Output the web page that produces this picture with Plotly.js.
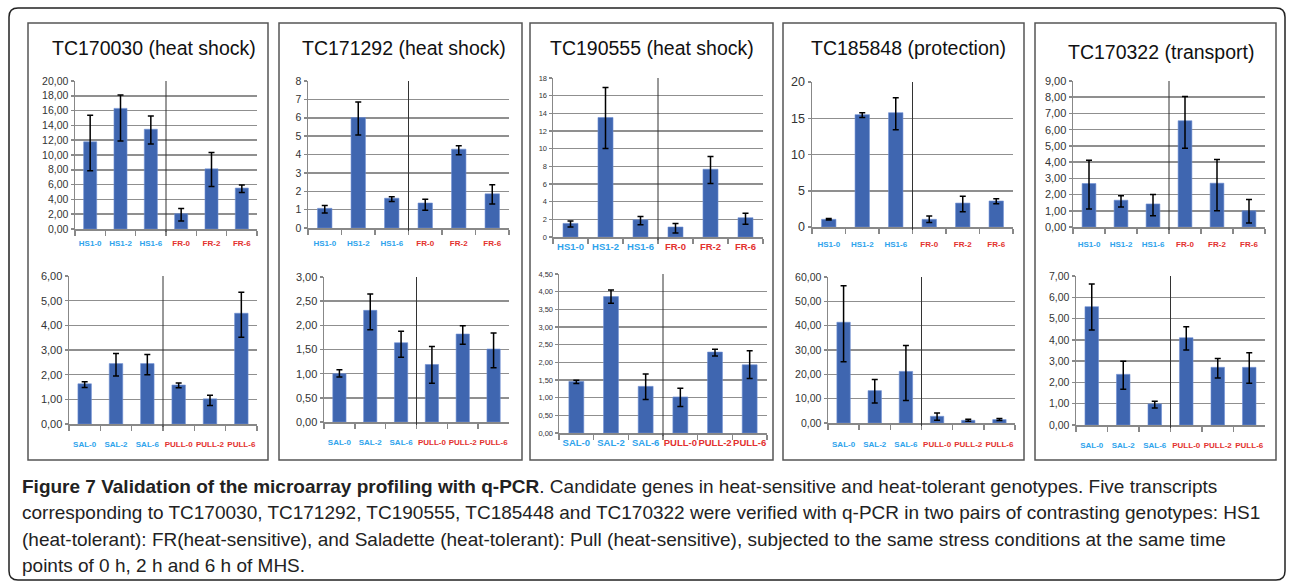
<!DOCTYPE html>
<html><head><meta charset="utf-8">
<script src="https://cdn.plot.ly/plotly-3.0.1.min.js"></script>
<style>html,body{margin:0;padding:0;background:#fff;}#chart{width:1290px;height:585px;}</style>
</head><body><div id="chart"></div>
<script>
// ---- categories ----
const catsHS = ['HS1-0','HS1-2','HS1-6','FR-0','FR-2','FR-6'];
const catsSP = ['SAL-0','SAL-2','SAL-6','PULL-0','PULL-2','PULL-6'];
const titles = ['TC170030 (heat shock)','TC171292 (heat shock)','TC190555 (heat shock)','TC185848 (protection)','TC170322 (transport)'];

// ---- top row: HS1 / FR ----
const hs_170030 = [11.78,16.3,13.48,2.07,8.13,5.53];
const hs_170030_up = [3.6,1.8,1.8,0.7,2.2,0.4];
const hs_170030_dn = [3.9,4.4,2.0,1.0,2.4,0.6];
const hs_171292 = [1.07,6.01,1.62,1.36,4.29,1.86];
const hs_171292_up = [0.15,0.85,0.08,0.2,0.18,0.5];
const hs_171292_dn = [0.25,0.95,0.18,0.4,0.3,0.55];
const hs_190555 = [1.54,13.53,1.95,1.13,7.67,2.18];
const hs_190555_up = [0.28,3.4,0.38,0.4,1.45,0.5];
const hs_190555_dn = [0.4,3.5,0.55,0.68,1.6,0.75];
const hs_185848 = [1.06,15.5,15.77,1.06,3.3,3.59];
const hs_185848_up = [0.1,0.25,2.05,0.45,0.95,0.3];
const hs_185848_dn = [0.1,0.4,2.35,0.45,1.2,0.4];
const hs_170322 = [2.68,1.65,1.42,6.55,2.7,1.0];
const hs_170322_up = [1.44,0.27,0.58,1.5,1.46,0.69];
const hs_170322_dn = [1.57,0.41,0.72,1.69,1.7,0.75];

// ---- bottom row: SAL / PULL ----
const sp_170030 = [1.63,2.45,2.45,1.58,1.02,4.49];
const sp_170030_up = [0.08,0.41,0.37,0.08,0.15,0.85];
const sp_170030_dn = [0.15,0.5,0.45,0.11,0.27,0.97];
const sp_171292 = [1.0,2.31,1.64,1.19,1.82,1.51];
const sp_171292_up = [0.08,0.34,0.24,0.37,0.17,0.33];
const sp_171292_dn = [0.07,0.4,0.3,0.39,0.21,0.39];
const sp_190555 = [1.46,3.86,1.32,1.02,2.29,1.93];
const sp_190555_up = [0.03,0.19,0.35,0.25,0.08,0.4];
const sp_190555_dn = [0.06,0.19,0.37,0.27,0.11,0.39];
const sp_185848 = [41.4,13.3,21.2,2.75,1.1,1.4];
const sp_185848_up = [15,4.6,10.7,1.35,0.4,0.4];
const sp_185848_dn = [16.2,5.05,12,1.65,0.4,0.4];
const sp_170322 = [5.56,2.38,0.99,4.1,2.71,2.71];
const sp_170322_up = [1.06,0.62,0.12,0.52,0.42,0.69];
const sp_170322_dn = [1.1,0.7,0.19,0.58,0.5,0.75];

const captionLines = [
 '<b>Figure 7 Validation of the microarray profiling with q-PCR</b>. Candidate genes in heat-sensitive and heat-tolerant genotypes. Five transcripts',
 'corresponding to TC170030, TC171292, TC190555, TC185448 and TC170322 were verified with q-PCR in two pairs of contrasting genotypes: HS1',
 '(heat-tolerant): FR(heat-sensitive), and Saladette (heat-tolerant): Pull (heat-sensitive), subjected to the same stress conditions at the same time',
 'points of 0 h, 2 h and 6 h of MHS.'
];

// ---- layout helpers (pixel geometry) ----
const W = 1290, H = 585;
const px = v => v / W, py = v => 1 - v / H;
const BLUE = '#2ea3ec', RED = '#e3312e';

const panels = [
 {cats:catsHS, y:hs_170030, up:hs_170030_up, dn:hs_170030_dn, x0:75,  x1:257,  yb:229, yt:81, max:20, dt:2,  fmt:'.2f', tf:10.5, cf:8,   so:6},
 {cats:catsHS, y:hs_171292, up:hs_171292_up, dn:hs_171292_dn, x0:308, x1:509,  yb:228, yt:81, max:8,  dt:1,  fmt:'',    tf:10.5, cf:8,   so:7},
 {cats:catsHS, y:hs_190555, up:hs_190555_up, dn:hs_190555_dn, x0:553, x1:763,  yb:237, yt:78, max:18, dt:2,  fmt:'',    tf:7.5,  cf:9.5, so:0},
 {cats:catsHS, y:hs_185848, up:hs_185848_up, dn:hs_185848_dn, x0:812, x1:1013, yb:227, yt:82, max:20, dt:5,  fmt:'',    tf:12.5, cf:8,   so:9},
 {cats:catsHS, y:hs_170322, up:hs_170322_up, dn:hs_170322_dn, x0:1073,x1:1265, yb:227, yt:81, max:9,  dt:1,  fmt:'.2f', tf:11,   cf:8,   so:9},
 {cats:catsSP, y:sp_170030, up:sp_170030_up, dn:sp_170030_dn, x0:69,  x1:257,  yb:424, yt:276,max:6,  dt:1,  fmt:'.2f', tf:11,   cf:8,   so:12},
 {cats:catsSP, y:sp_171292, up:sp_171292_up, dn:sp_171292_dn, x0:324, x1:509,  yb:422, yt:277,max:3,  dt:0.5,fmt:'.2f', tf:11,   cf:8,   so:12},
 {cats:catsSP, y:sp_190555, up:sp_190555_up, dn:sp_190555_dn, x0:559, x1:767,  yb:433, yt:274,max:4.5,dt:0.5,fmt:'.2f', tf:7.5,  cf:9.5, so:0},
 {cats:catsSP, y:sp_185848, up:sp_185848_up, dn:sp_185848_dn, x0:828, x1:1015, yb:423, yt:277,max:60, dt:10, fmt:'.2f', tf:10.5, cf:8,   so:13},
 {cats:catsSP, y:sp_170322, up:sp_170322_up, dn:sp_170322_dn, x0:1076,x1:1265, yb:425, yt:276,max:7,  dt:1,  fmt:'.2f', tf:10.5, cf:8,   so:12}
];
const titlePos = [[154,48],[404,48],[652,48],[908,48],[1161,52]];
const frames = [[28,268],[279,522],[530,773],[783,1024],[1035,1276]];

const data = [];
const layout = {
  width: W, height: H, margin:{l:0,r:0,t:0,b:0},
  paper_bgcolor:'#fff', plot_bgcolor:'rgba(0,0,0,0)',
  showlegend:false, bargap:0.57, separators:', ',
  font:{family:'Liberation Sans, Arial, sans-serif', color:'#222'},
  shapes:[], annotations:[]
};

// frames
const r = 9, L = 9, T = 8, R = 1285, B = 580;
layout.shapes.push({type:'path', xref:'paper', yref:'paper', layer:'below',
  path:`M ${px(L+r)} ${py(T)} L ${px(R-r)} ${py(T)} Q ${px(R)} ${py(T)} ${px(R)} ${py(T+r)} L ${px(R)} ${py(B-r)} Q ${px(R)} ${py(B)} ${px(R-r)} ${py(B)} L ${px(L+r)} ${py(B)} Q ${px(L)} ${py(B)} ${px(L)} ${py(B-r)} L ${px(L)} ${py(T+r)} Q ${px(L)} ${py(T)} ${px(L+r)} ${py(T)} Z`,
  line:{color:'#222', width:1.5}});
frames.forEach(f => layout.shapes.push({type:'rect', xref:'paper', yref:'paper', layer:'below',
  x0:px(f[0]), x1:px(f[1]), y0:py(460), y1:py(23), line:{color:'#555', width:1.5}, fillcolor:'#fff'}));

panels.forEach((p, i) => {
  const n = i ? String(i+1) : '';
  const xa = 'xaxis'+n, ya = 'yaxis'+n;
  data.push({type:'bar', x:p.cats, y:p.y, xaxis:'x'+n, yaxis:'y'+n,
    marker:{color:'#3f66b0', line:{color:'#6f8fd4', width:0.6}},
    error_y:{type:'data', symmetric:false, array:p.up, arrayminus:p.dn, color:'#000', thickness:1.5, width:3},
    hoverinfo:'x+y'});
  layout[xa] = {domain:[px(p.x0), px(p.x1)], anchor:'y'+n, type:'category', range:[-0.5,5.5],
    tickmode:'array', tickvals:p.cats, tickangle:0,
    ticktext:p.cats.map((c,k)=>`<b><span style="color:${k<3?BLUE:RED}">${c}</span></b>`),
    tickfont:{size:p.cf, family:'Liberation Sans, Arial, sans-serif'},
    ticks:'outside', ticklen:5, tickcolor:'#888', tickwidth:1.5, tickson:'boundaries',
    ticklabelstandoff:p.so,
    showline:true, linecolor:'#888', linewidth:1.5, showgrid:false, zeroline:false, fixedrange:true};
  layout[ya] = {domain:[py(p.yb), py(p.yt)], anchor:'x'+n, range:[0,p.max], tick0:0, dtick:p.dt,
    tickformat:p.fmt, tickfont:{size:p.tf, color:'#333', family:'Liberation Sans, Arial, sans-serif'},
    ticks:'outside', ticklen:3, tickcolor:'#888', tickwidth:1.5,
    showline:true, linecolor:'#888', linewidth:1.5, showgrid:true, gridcolor:'#8f8f8f', gridwidth:1.5,
    zeroline:false, fixedrange:true};
  layout.shapes.push({type:'line', xref:'x'+n, yref:'y'+n+' domain', x0:2.5, x1:2.5, y0:-0.02, y1:1,
    line:{color:'#333', width:1}});
});

titles.forEach((t, i) => layout.annotations.push({text:t, xref:'paper', yref:'paper',
  x:px(titlePos[i][0]), y:py(titlePos[i][1]), xanchor:'center', yanchor:'middle', showarrow:false,
  font:{size:19.5, color:'#111', family:'Liberation Sans, Arial, sans-serif'}}));

const capY = [486, 512, 539, 565];
captionLines.forEach((t, i) => layout.annotations.push({text:t, xref:'paper', yref:'paper',
  x:px(20), y:py(capY[i]), xanchor:'left', yanchor:'middle', showarrow:false, align:'left',
  font:{size:19, color:'#222', family:'Liberation Sans, Arial, sans-serif'}}));

Plotly.newPlot('chart', data, layout, {staticPlot:true, displayModeBar:false});
</script></body></html>
